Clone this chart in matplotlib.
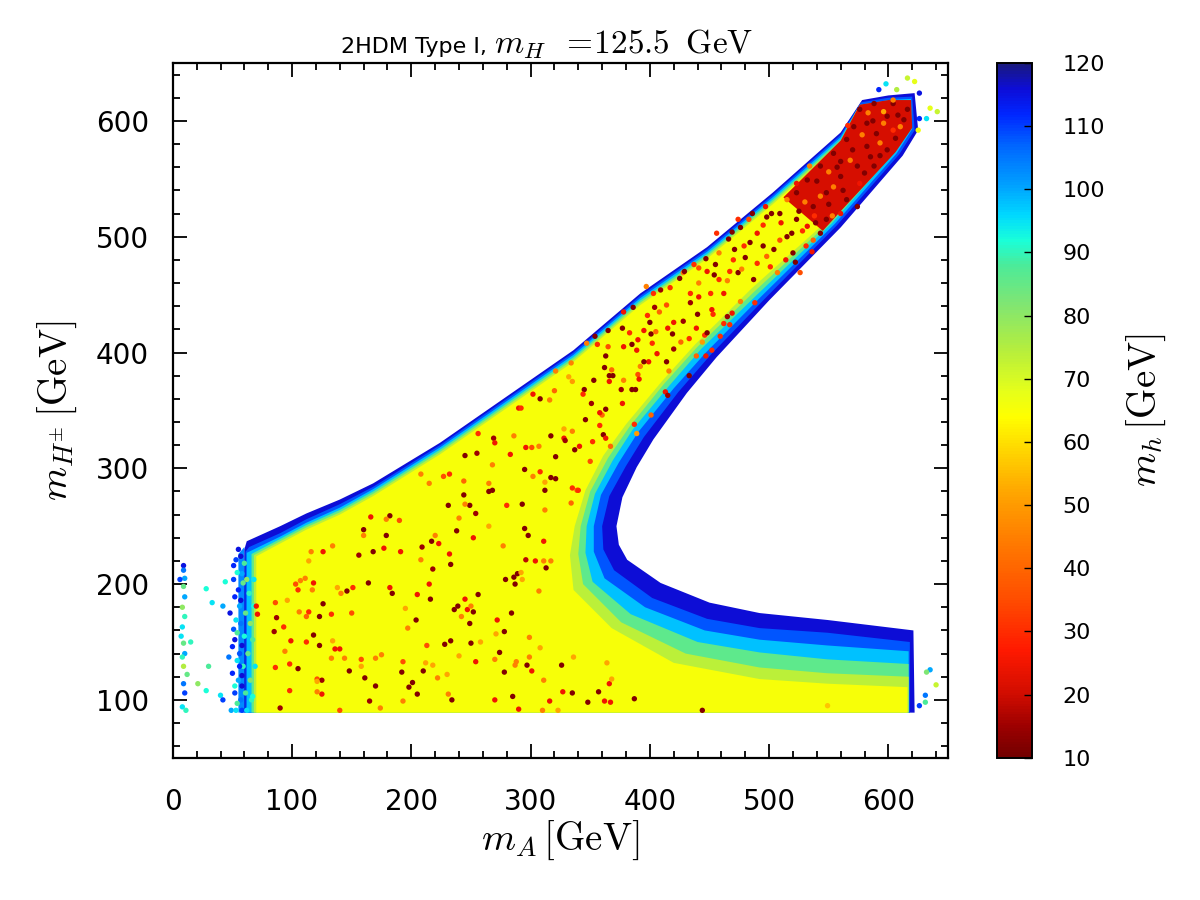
import matplotlib
matplotlib.use("Agg")
import matplotlib.pyplot as plt
from matplotlib.colors import LinearSegmentedColormap, Normalize
from matplotlib.cm import ScalarMappable
from matplotlib.ticker import MultipleLocator

# ---------------- colour scale (m_h in GeV) ----------------
CB_VALUES = [10, 15, 20, 27, 35, 45, 52, 58, 64, 68, 75, 82, 88, 92, 96, 101, 107, 112, 116, 120]
CB_COLORS = [(0.45, 0.0, 0.0), (0.62, 0.0, 0.0), (0.82, 0.05, 0.0), (1.0, 0.1, 0.0),
             (1.0, 0.3, 0.0), (1.0, 0.5, 0.0), (1.0, 0.65, 0.0), (1.0, 0.82, 0.0),
             (1.0, 1.0, 0.0), (0.9, 1.0, 0.1), (0.7, 0.93, 0.25), (0.5, 0.9, 0.45),
             (0.3, 0.92, 0.6), (0.1, 1.0, 0.85), (0.0, 0.85, 1.0), (0.0, 0.62, 1.0),
             (0.0, 0.4, 1.0), (0.0, 0.15, 1.0), (0.05, 0.05, 0.85), (0.1, 0.1, 0.5)]
CB_TICKS = list(range(10, 121, 10))

# ---------------- allowed region, drawn as nested m_h contour layers ----------------
LEFT_BASE_VALUE = 103
LEFT_BASE = [(55, 89), (55, 226), (60, 232), (62, 89)]

LAYER_VALUES = [116, 108, 98, 86, 74, 65]
LAYER_116 = [(60, 89), (60, 230), (62, 237), (90, 250), (112, 261), (140, 273), (168, 287), (224, 322),
             (280, 362), (336, 402), (392, 451), (448, 491), (503, 538), (560, 590), (578, 618),
             (600, 622), (622, 624), (625, 592), (612, 570), (560, 508), (500, 445), (456, 396),
             (431, 365), (403, 325), (389, 301), (377, 275), (372, 250), (374, 234), (381, 221),
             (409, 201), (450, 184), (492, 175), (549, 169), (621, 160), (622, 89)]
LAYER_108 = [(61, 89), (61, 228), (64, 232), (90, 244), (112, 256), (140, 269), (168, 284), (224, 320),
             (280, 360), (336, 400), (392, 449), (448, 489), (503, 536), (560, 588), (577, 616),
             (600, 620), (620, 621), (622, 592), (609, 571), (557, 510), (496, 446), (451, 398),
             (424, 366), (395, 327), (380, 302), (366, 276), (360, 250), (361, 230), (370, 212),
             (402, 188), (448, 170), (492, 162), (549, 158), (618, 150), (618, 89)]
LAYER_98 = [(62, 89), (62, 227), (66, 229), (90, 241), (112, 253), (140, 266), (168, 282), (224, 318),
            (280, 358), (336, 398), (392, 447), (448, 487), (503, 534), (560, 586), (576, 614),
            (600, 618), (619, 619), (620, 593), (607, 572), (555, 511), (493, 448), (447, 400),
            (420, 369), (390, 331), (374, 305), (359, 277), (353, 250), (353, 228), (362, 205),
            (396, 180), (446, 160), (492, 152), (549, 147), (617, 142), (617, 89)]
LAYER_86 = [(66, 89), (66, 226), (90, 239), (112, 251), (140, 264), (168, 280), (224, 316), (280, 356),
            (336, 396), (392, 445), (448, 485), (503, 532), (560, 584), (575, 612), (600, 616),
            (618, 617), (619, 593), (605, 573), (553, 512), (490, 450), (443, 403), (416, 371),
            (386, 334), (369, 307), (354, 278), (347, 250), (346, 227), (352, 202), (384, 174),
            (440, 150), (492, 141), (549, 135), (617, 131), (617, 89)]
LAYER_74 = [(68, 89), (68, 225), (90, 237), (112, 249), (140, 262), (168, 278), (224, 314), (280, 354),
            (336, 394), (392, 443), (448, 483), (503, 530), (560, 582), (574, 610), (600, 614),
            (617, 615), (618, 594), (604, 574), (551, 513), (487, 452), (440, 405), (412, 373),
            (383, 336), (365, 309), (350, 280), (342, 250), (340, 226), (344, 200), (376, 167),
            (430, 140), (492, 128), (549, 123), (617, 120), (617, 89)]
LAYER_65 = [(70, 89), (70, 224), (90, 235), (112, 247), (140, 260), (168, 276), (224, 312), (280, 352),
            (336, 392), (392, 441), (448, 481), (503, 528), (560, 580), (573, 608), (600, 612),
            (616, 613), (617, 594), (603, 575), (549, 514), (485, 455), (438, 407), (410, 375),
            (380, 338), (361, 311), (346, 281), (337, 250), (333, 225), (336, 195), (368, 162),
            (420, 132), (492, 118), (549, 114), (616, 111), (616, 89)]

# dense cloud of very light h points at the top of the upper branch
DENSE_VALUE = 21
DENSE_REGION = [(512, 534), (560, 583), (576, 614), (600, 618), (619, 618), (620, 594), (606, 573),
                (560, 522), (545, 505)]

# ---------------- individual points (m_A, m_H+-, m_h) ----------------
DOTS_LOWER = [(238, 246, 12), (252, 240, 25), (220, 242, 45), (217, 237, 12), (223, 235, 25), (209, 232, 15),
              (191, 228, 25), (232, 226, 25), (208, 221, 45), (233, 217, 12), (218, 213, 15), (265, 250, 52),
              (295, 248, 12), (298, 242, 12), (311, 237, 25), (277, 233, 45), (296, 221, 18), (304, 220, 25),
              (311, 220, 45), (317, 220, 45), (313, 214, 12), (289, 209, 12), (286, 206, 12), (292, 210, 52),
              (279, 204, 12), (293, 204, 52), (287, 200, 12), (215, 200, 25), (205, 191, 25), (256, 191, 12),
              (216, 187, 12), (245, 187, 25), (307, 194, 45), (239, 181, 12), (236, 178, 12), (247, 178, 25),
              (252, 176, 12), (250, 181, 45), (242, 172, 45), (195, 179, 52), (284, 175, 12), (204, 169, 12),
              (272, 169, 25), (249, 166, 12), (197, 162, 45), (278, 159, 12), (271, 157, 52), (233, 151, 12),
              (228, 148, 12), (213, 147, 35), (250, 149, 12), (258, 150, 52), (299, 154, 45), (308, 145, 52),
              (274, 141, 12), (240, 138, 52), (299, 137, 45), (288, 133, 45), (270, 135, 45), (254, 133, 25),
              (193, 133, 35), (212, 132, 52), (218, 130, 52), (297, 130, 12), (287, 130, 45), (192, 124, 12),
              (210, 125, 12), (278, 124, 12), (301, 125, 25), (326, 130, 12), (336, 137, 52), (364, 132, 52),
              (230, 122, 52), (222, 119, 45), (201, 115, 12), (198, 111, 12), (311, 117, 45), (366, 114, 25),
              (368, 118, 52), (205, 105, 12), (231, 105, 45), (234, 100, 12), (193, 99, 45), (270, 100, 25),
              (285, 103, 12), (327, 107, 25), (335, 106, 12), (316, 99, 25), (290, 92, 25), (348, 98, 12),
              (357, 107, 12), (362, 99, 25), (367, 98, 25), (310, 91, 45), (323, 91, 52), (387, 101, 12),
              (444, 91, 12), (549, 95, 56)]
DOTS_LEFT = [(166, 258, 25), (182, 259, 12), (179, 256, 45), (190, 255, 35), (160, 247, 12), (168, 228, 12),
             (179, 242, 12), (177, 231, 25), (160, 242, 45), (156, 225, 15), (134, 233, 45), (126, 228, 25),
             (116, 228, 45), (114, 220, 52), (103, 200, 35), (107, 203, 45), (111, 205, 45), (105, 195, 30),
             (118, 201, 25), (117, 195, 45), (151, 197, 30), (146, 194, 12), (138, 197, 52), (141, 192, 45),
             (164, 201, 12), (96, 186, 52), (86, 184, 35), (70, 181, 25), (71, 174, 25), (87, 171, 15),
             (93, 163, 30), (85, 159, 15), (106, 176, 45), (112, 172, 40), (114, 176, 30), (126, 183, 12),
             (123, 172, 12), (133, 174, 30), (150, 175, 35), (118, 156, 12), (112, 150, 30), (123, 147, 12),
             (99, 151, 25), (94, 142, 45), (136, 144, 25), (140, 144, 25), (134, 151, 52), (144, 136, 45),
             (86, 128, 30), (98, 131, 30), (105, 127, 12), (121, 118, 35), (125, 117, 15), (121, 116, 52),
             (148, 125, 12), (133, 136, 45), (158, 135, 35), (158, 129, 52), (170, 136, 45), (175, 139, 45),
             (161, 119, 12), (170, 112, 12), (125, 105, 25), (98, 108, 30), (165, 99, 15), (174, 93, 45),
             (140, 91, 35), (90, 93, 15), (121, 107, 45), (184, 192, 12), (182, 197, 25)]
DOTS_MIDDLE = [(256, 330, 30), (269, 326, 15), (270, 322, 25), (245, 311, 12), (255, 313, 15), (283, 312, 25),
               (290, 352, 25), (286, 328, 45), (268, 303, 45), (232, 295, 30), (227, 293, 35), (208, 295, 45),
               (215, 287, 45), (244, 289, 40), (244, 277, 12), (249, 268, 12), (245, 269, 45), (231, 268, 12),
               (240, 257, 45), (254, 261, 15), (265, 280, 12), (268, 281, 12), (265, 287, 45), (280, 268, 30),
               (386, 439, 12), (378, 435, 25), (398, 432, 30), (404, 439, 15), (408, 435, 40), (400, 426, 12),
               (414, 441, 35), (420, 426, 25), (428, 427, 15), (440, 433, 12), (434, 443, 15), (452, 437, 25),
               (453, 433, 30), (465, 431, 15), (469, 434, 25), (462, 425, 30), (467, 424, 30), (476, 444, 45),
               (488, 443, 30), (377, 421, 12), (383, 417, 30), (390, 411, 25), (385, 407, 12), (389, 402, 25),
               (395, 419, 25), (401, 416, 12), (405, 418, 40), (402, 408, 30), (415, 421, 25), (419, 416, 12),
               (420, 403, 15), (426, 409, 40), (433, 412, 30), (439, 421, 25), (446, 415, 30), (448, 417, 12),
               (444, 409, 50), (452, 402, 30), (439, 397, 40), (447, 397, 25), (459, 414, 30), (414, 392, 12),
               (416, 384, 45), (433, 380, 12), (406, 399, 25), (399, 392, 25), (392, 388, 45), (395, 392, 12),
               (390, 381, 35), (378, 405, 25), (365, 419, 12), (365, 405, 35), (356, 407, 30), (363, 397, 12),
               (362, 387, 12), (354, 414, 12), (347, 408, 45), (353, 376, 12), (366, 380, 12), (369, 380, 12),
               (366, 375, 25), (368, 385, 40), (376, 368, 15), (378, 376, 45), (385, 368, 12), (388, 368, 12),
               (391, 377, 25), (413, 366, 25), (415, 363, 15), (401, 346, 40), (387, 338, 30), (389, 330, 50),
               (377, 356, 25), (363, 351, 12), (360, 346, 40), (358, 348, 25), (351, 356, 15), (358, 337, 30),
               (345, 368, 12), (344, 364, 30), (334, 391, 45), (332, 379, 52), (335, 375, 50), (321, 384, 45),
               (320, 367, 40), (302, 364, 25), (308, 360, 12), (316, 359, 45), (346, 342, 12), (361, 329, 12),
               (363, 326, 25), (367, 319, 40), (352, 323, 30), (341, 319, 25), (337, 316, 12), (335, 332, 45),
               (328, 334, 52), (328, 326, 25), (329, 324, 15), (317, 328, 12), (307, 319, 45), (301, 318, 35),
               (296, 318, 25), (292, 352, 30), (321, 310, 12), (350, 306, 35), (295, 299, 12), (302, 293, 45),
               (308, 297, 30), (317, 292, 12), (321, 291, 12), (312, 288, 52), (335, 283, 30), (339, 281, 35),
               (340, 281, 30), (334, 270, 40), (312, 281, 12), (312, 264, 45), (293, 269, 12)]
DOTS_BAND = [(417, 456, 30), (425, 464, 12), (428, 469, 45), (409, 454, 15), (403, 451, 30), (397, 457, 45),
             (434, 451, 30), (441, 460, 45), (448, 470, 25), (455, 476, 12), (458, 486, 45), (447, 481, 12),
             (437, 476, 30), (441, 473, 35), (429, 470, 12), (454, 467, 12), (458, 463, 30), (465, 462, 45),
             (467, 470, 30), (474, 469, 12), (477, 472, 45), (462, 451, 25), (441, 448, 25), (451, 451, 30),
             (471, 489, 12), (479, 492, 30), (484, 495, 12), (490, 503, 25), (466, 498, 12), (456, 503, 30),
             (476, 508, 12), (483, 515, 35), (495, 492, 12), (498, 483, 40), (504, 489, 12), (490, 477, 30),
             (509, 497, 35), (501, 474, 30), (487, 463, 12), (507, 469, 45), (514, 480, 25), (520, 486, 12),
             (531, 492, 30), (537, 497, 40), (543, 503, 12), (526, 469, 35), (519, 503, 12), (532, 509, 25),
             (548, 515, 12), (495, 510, 30), (502, 520, 12), (510, 512, 25), (525, 522, 12), (515, 500, 12),
             (528, 505, 30), (539, 512, 12), (497, 526, 25), (486, 520, 12), (474, 515, 30), (469, 504, 12),
             (480, 482, 12), (470, 480, 30), (522, 478, 12), (536, 487, 25)]
DOTS_DENSE = [(588, 615, 12), (604, 615, 12), (616, 610, 12), (599, 604, 12), (582, 598, 12), (571, 595, 12),
              (590, 589, 12), (610, 595, 45), (565, 584, 12), (582, 578, 12), (599, 575, 12), (554, 572, 12),
              (568, 566, 45), (588, 561, 12), (543, 561, 12), (560, 552, 12), (576, 546, 25), (532, 549, 12),
              (548, 538, 12), (565, 532, 12), (523, 538, 12), (515, 532, 45), (537, 526, 12), (560, 520, 25),
              (509, 520, 12), (498, 517, 12), (523, 515, 12), (604, 618, 45), (593, 581, 45), (574, 561, 12),
              (554, 543, 45), (534, 561, 45), (523, 546, 25), (543, 535, 45), (574, 526, 12), (585, 569, 12),
              (613, 601, 12), (576, 610, 12), (596, 598, 45), (606, 585, 12), (578, 588, 45), (560, 565, 12),
              (550, 556, 45), (530, 530, 45), (596, 608, 52), (583, 607, 45), (570, 575, 12), (557, 560, 12),
              (540, 548, 12), (562, 540, 12), (580, 555, 12), (593, 570, 12), (608, 605, 12), (587, 600, 12),
              (566, 596, 30), (550, 528, 12), (538, 518, 30), (553, 518, 45), (604, 592, 30)]
DOTS_STRAY = [(592, 627, 112), (598, 632, 95), (607, 627, 75), (616, 637, 72), (622, 634, 68), (626, 624, 115),
              (635, 611, 68), (641, 608, 72), (632, 602, 95), (626, 602, 112), (625, 592, 66),
              (635, 126, 100), (632, 124, 82), (640, 113, 72), (631, 104, 105), (631, 98, 88), (626, 95, 110),
              (9, 216, 115), (9, 212, 105), (10, 205, 100), (9, 198, 85), (10, 189, 100), (8, 180, 80),
              (10, 172, 90), (8, 163, 95), (9, 149, 85), (10, 140, 100), (9, 129, 75), (12, 122, 85),
              (9, 114, 105), (10, 106, 110), (8, 94, 95), (11, 91, 90), (6, 204, 110), (7, 155, 95),
              (15, 150, 90), (8, 137, 90), (28, 196, 92), (33, 184, 95), (42, 181, 100), (44, 202, 92),
              (21, 114, 80), (28, 108, 92), (30, 129, 88), (40, 104, 95), (42, 100, 110)]
DOTS_EDGE_LEFT = [(55, 230, 115), (51, 216, 112), (51, 204, 110), (52, 189, 112), (48, 175, 115), (51, 161, 108),
                  (50, 146, 112), (47, 137, 105), (50, 123, 112), (52, 106, 110), (49, 91, 100), (53, 91, 95),
                  (60, 218, 88), (62, 204, 80), (64, 192, 90), (61, 175, 85), (65, 166, 80), (60, 155, 92),
                  (63, 140, 85), (59, 129, 90), (65, 117, 82), (61, 106, 88), (66, 100, 90), (56, 181, 100),
                  (57, 166, 105), (56, 140, 108), (55, 117, 100), (57, 100, 105), (68, 204, 95), (68, 181, 92),
                  (67, 152, 88), (69, 129, 95), (67, 103, 92), (53, 221, 110), (58, 209, 100), (55, 195, 112),
                  (59, 201, 85), (53, 169, 95), (52, 152, 115), (56, 129, 112), (52, 112, 92), (58, 91, 110),
                  (62, 91, 95), (57, 224, 116), (54, 210, 92), (57, 186, 116), (54, 158, 88), (58, 147, 116),
                  (54, 134, 95), (58, 121, 116), (54, 97, 88), (58, 112, 116)]

X_TICKS = [0, 100, 200, 300, 400, 500, 600]
Y_TICKS = [100, 200, 300, 400, 500, 600]

# ---------------- figure ----------------
plt.rcParams["mathtext.fontset"] = "cm"
plt.rcParams["font.family"] = ["DejaVu Sans"]

cmap = LinearSegmentedColormap.from_list(
    "mh", [((v - 10) / 110.0, c) for v, c in zip(CB_VALUES, CB_COLORS)], N=256)
norm = Normalize(vmin=10, vmax=120)

fig = plt.figure(figsize=(12, 9), dpi=100)
ax = fig.add_axes([0.144, 0.158, 0.646, 0.772])
cax = fig.add_axes([0.831, 0.158, 0.029, 0.772])

ax.fill([p[0] for p in LEFT_BASE], [p[1] for p in LEFT_BASE],
        color=cmap(norm(LEFT_BASE_VALUE)), lw=0, zorder=0.5)
layers = [LAYER_116, LAYER_108, LAYER_98, LAYER_86, LAYER_74, LAYER_65]
for z, (val, poly) in enumerate(zip(LAYER_VALUES, layers)):
    ax.fill([p[0] for p in poly], [p[1] for p in poly], color=cmap(norm(val)), lw=0, zorder=1 + z)

ax.fill([p[0] for p in DENSE_REGION], [p[1] for p in DENSE_REGION],
        color=cmap(norm(DENSE_VALUE)), lw=0, zorder=8)

for group in [DOTS_EDGE_LEFT, DOTS_STRAY, DOTS_LOWER, DOTS_LEFT, DOTS_MIDDLE, DOTS_BAND, DOTS_DENSE]:
    ax.scatter([d[0] for d in group], [d[1] for d in group], c=[d[2] for d in group],
               cmap=cmap, norm=norm, s=15, linewidths=0, zorder=10)

ax.set_xlim(0, 650)
ax.set_ylim(50, 650)
ax.set_xticks(X_TICKS)
ax.set_yticks(Y_TICKS)
ax.xaxis.set_minor_locator(MultipleLocator(20))
ax.yaxis.set_minor_locator(MultipleLocator(20))
ax.tick_params(which="both", direction="in", top=True, right=True, width=1.3)
ax.tick_params(which="major", length=10, labelsize=20)
ax.tick_params(which="minor", length=5)
ax.tick_params(axis="x", which="major", pad=22)
ax.tick_params(axis="y", which="major", pad=17)
for sp in ax.spines.values():
    sp.set_linewidth(1.6)

ax.set_xlabel(r"$m_A\,[\mathrm{GeV}]$", fontsize=28, labelpad=2)
ax.set_ylabel(r"$m_{H^{\pm}}\,[\mathrm{GeV}]$", fontsize=28, labelpad=12)

# title: sans-serif words followed by a larger math part
ax.text(0.414, 1.014, "2HDM Type I, ", transform=ax.transAxes, fontsize=16,
        ha="right", va="baseline")
ax.text(0.414, 1.014, r"$m_H\;\;=\!125.5\;\;\mathrm{GeV}$", transform=ax.transAxes, fontsize=24,
        ha="left", va="baseline")

cb = fig.colorbar(ScalarMappable(norm=norm, cmap=cmap), cax=cax, ticks=CB_TICKS)
cb.ax.tick_params(direction="in", length=6, width=1, labelsize=16, pad=22)
cb.outline.set_linewidth(1.4)
cb.set_label(r"$m_h\,[\mathrm{GeV}]$", fontsize=28, labelpad=14)

fig.savefig("out.png", dpi=100)
